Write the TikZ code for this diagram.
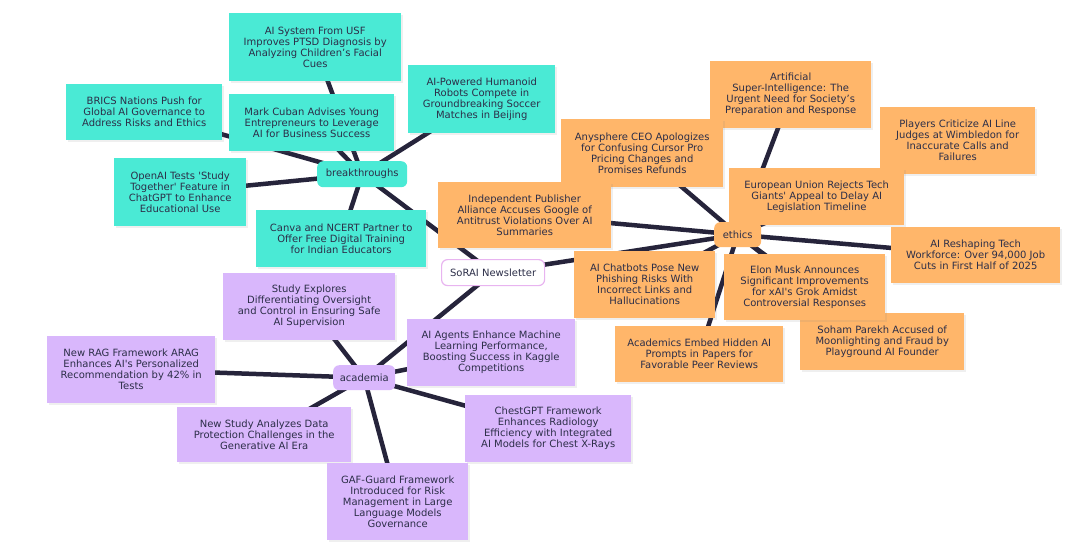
\documentclass[tikz,border=0pt]{standalone}
\usepackage{fontspec}
\setmainfont{DejaVu Sans}
\usetikzlibrary{shadows}
\definecolor{tealc}{RGB}{74,234,213}
\definecolor{orangec}{RGB}{255,182,106}
\definecolor{lavc}{RGB}{217,183,252}
\definecolor{txtc}{RGB}{44,46,72}
\definecolor{edgec}{RGB}{38,36,59}
\definecolor{rootb}{RGB}{232,180,240}
\pgfdeclarelayer{bg}
\pgfsetlayers{bg,main}
\tikzset{
  box/.style={anchor=north west, inner sep=0pt, align=center, text=txtc,
    font=\fontsize{10}{11}\selectfont,
    drop shadow={shadow xshift=1.5pt, shadow yshift=-1.5pt, opacity=0.12}},
  tbox/.style={box, fill=tealc},
  obox/.style={box, fill=orangec},
  lbox/.style={box, fill=lavc},
  hub/.style={anchor=north west, inner sep=0pt, align=center, text=txtc,
    font=\fontsize{10}{11}\selectfont, rounded corners=6pt},
  edge/.style={draw=edgec, line width=4.5pt}
}
\begin{document}
\begin{tikzpicture}[x=1pt,y=-1pt]
\useasboundingbox (0,0) rectangle (1090,558);
% root
\node[hub, fill=white, draw=rootb, line width=1.2pt, minimum width=103pt, minimum height=26pt] (root) at (441,259) {SoRAI Newsletter};
% breakthroughs
\node[hub, fill=tealc, minimum width=90pt, minimum height=26pt] (bt) at (317,161) {breakthroughs};
\node[tbox, minimum width=172pt, minimum height=68pt] (b1) at (229,13) {AI System From USF\\Improves PTSD Diagnosis by\\Analyzing Children’s Facial\\Cues};
\node[tbox, minimum width=147pt, minimum height=68pt] (b2) at (408,65) {AI-Powered Humanoid\\Robots Compete in\\Groundbreaking Soccer\\Matches in Beijing};
\node[tbox, minimum width=156pt, minimum height=56pt] (b3) at (66,84) {BRICS Nations Push for\\Global AI Governance to\\Address Risks and Ethics};
\node[tbox, minimum width=165pt, minimum height=57pt] (b4) at (229,94) {Mark Cuban Advises Young\\Entrepreneurs to Leverage\\AI for Business Success};
\node[tbox, minimum width=132pt, minimum height=68pt] (b5) at (114,158) {OpenAI Tests \textquotesingle Study\\Together\textquotesingle{} Feature in\\ChatGPT to Enhance\\Educational Use};
\node[tbox, minimum width=170pt, minimum height=57pt] (b6) at (256,210) {Canva and NCERT Partner to\\Offer Free Digital Training\\for Indian Educators};
% ethics
\node[obox, minimum width=161pt, minimum height=67pt] (e1) at (710,61) {Artificial\\Super-Intelligence: The\\Urgent Need for Society’s\\Preparation and Response};
\node[obox, minimum width=155pt, minimum height=67pt] (e2) at (880,107) {Players Criticize AI Line\\Judges at Wimbledon for\\Inaccurate Calls and\\Failures};
\node[obox, minimum width=162pt, minimum height=68pt] (e3) at (561,119) {Anysphere CEO Apologizes\\for Confusing Cursor Pro\\Pricing Changes and\\Promises Refunds};
\node[obox, minimum width=175pt, minimum height=57pt] (e4) at (729,168) {European Union Rejects Tech\\Giants\textquotesingle{} Appeal to Delay AI\\Legislation Timeline};
\node[obox, minimum width=173pt, minimum height=66pt] (e5) at (438,182) {Independent Publisher\\Alliance Accuses Google of\\Antitrust Violations Over AI\\Summaries};
\node[obox, minimum width=169pt, minimum height=56pt] (e6) at (891,227) {AI Reshaping Tech\\Workforce: Over 94,000 Job\\Cuts in First Half of 2025};
\node[obox, minimum width=141pt, minimum height=67pt] (e7) at (574,251) {AI Chatbots Pose New\\Phishing Risks With\\Incorrect Links and\\Hallucinations};
\node[obox, minimum width=164pt, minimum height=57pt] (e9) at (800,313) {Soham Parekh Accused of\\Moonlighting and Fraud by\\Playground AI Founder};
\node[obox, minimum width=161pt, minimum height=66pt] (e8) at (724,254) {Elon Musk Announces\\Significant Improvements\\for xAI\textquotesingle s Grok Amidst\\Controversial Responses};
\node[obox, minimum width=168pt, minimum height=56pt] (e10) at (615,326) {Academics Embed Hidden AI\\Prompts in Papers for\\Favorable Peer Reviews};
\node[hub, fill=orangec, minimum width=47pt, minimum height=25pt] (et) at (714,222) {ethics};
% academia
\node[lbox, minimum width=172pt, minimum height=67pt] (a1) at (223,273) {Study Explores\\Differentiating Oversight\\and Control in Ensuring Safe\\AI Supervision};
\node[lbox, minimum width=168pt, minimum height=67pt] (a2) at (407,319) {AI Agents Enhance Machine\\Learning Performance,\\Boosting Success in Kaggle\\Competitions};
\node[lbox, minimum width=168pt, minimum height=67pt] (a3) at (47,336) {New RAG Framework ARAG\\Enhances AI\textquotesingle s Personalized\\Recommendation by 42\% in\\Tests};
\node[lbox, minimum width=174pt, minimum height=55pt] (a4) at (177,407) {New Study Analyzes Data\\Protection Challenges in the\\Generative AI Era};
\node[lbox, minimum width=166pt, minimum height=67pt] (a5) at (465,395) {ChestGPT Framework\\Enhances Radiology\\Efficiency with Integrated\\AI Models for Chest X-Rays};
\node[lbox, minimum width=141pt, minimum height=77pt] (a6) at (327,463) {GAF-Guard Framework\\Introduced for Risk\\Management in Large\\Language Models\\Governance};
\node[hub, fill=lavc, minimum width=62pt, minimum height=25pt] (ac) at (333,365) {academia};
% edges
\begin{pgfonlayer}{bg}
\fill[white] (0,0) rectangle (1090,558);
\draw[edge] (root.center) -- (bt.center);
\draw[edge] (root.center) -- (et.center);
\draw[edge] (root.center) -- (ac.center);
\foreach \n in {b1,b2,b3,b4,b5,b6} \draw[edge] (bt.center) -- (\n.center);
\foreach \n in {e1,e2,e3,e4,e5,e6,e7,e8,e9,e10} \draw[edge] (et.center) -- (\n.center);
\foreach \n in {a1,a2,a3,a4,a5,a6} \draw[edge] (ac.center) -- (\n.center);
\end{pgfonlayer}
\end{tikzpicture}
\end{document}
